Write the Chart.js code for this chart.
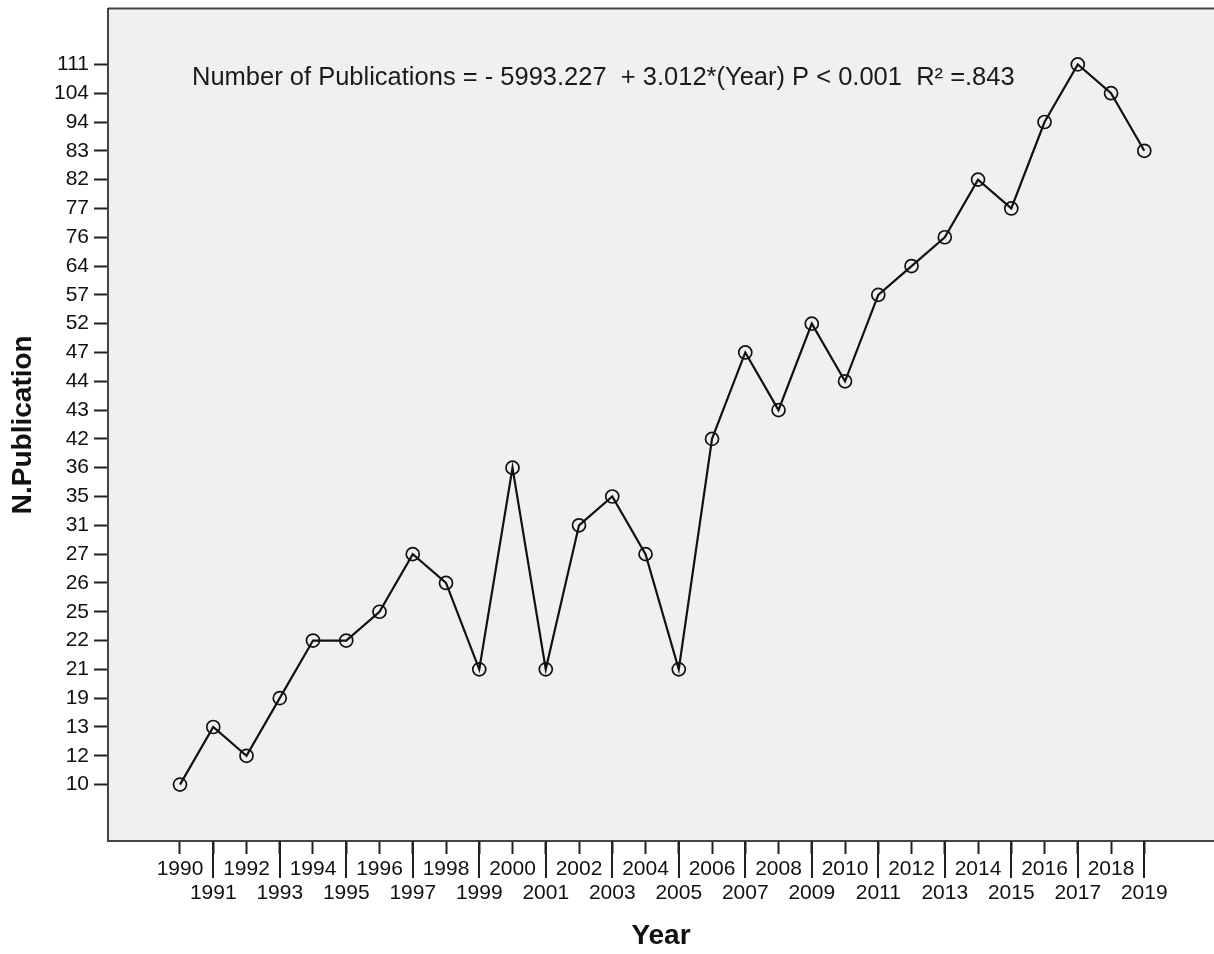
<!DOCTYPE html>
<html>
<head>
<meta charset="utf-8">
<script src="https://cdn.jsdelivr.net/npm/chart.js@4"></script>
<style>
  html, body { margin: 0; padding: 0; background: #ffffff; overflow: hidden; }
  #wrap { position: relative; width: 1214px; height: 954px; }
</style>
</head>
<body>
<div id="wrap"><canvas id="c"></canvas></div>
<script>
const years = [1990,1991,1992,1993,1994,1995,1996,1997,1998,1999,2000,2001,2002,2003,2004,2005,2006,2007,2008,2009,2010,2011,2012,2013,2014,2015,2016,2017,2018,2019];
const publications = [10,13,12,19,22,22,25,27,26,21,36,21,31,35,27,21,42,47,43,52,44,57,64,76,82,77,94,111,104,83];
const yCategories = [10,12,13,19,21,22,25,26,27,31,35,36,42,43,44,47,52,57,64,76,77,82,83,94,104,111];
const annotationText = 'Number of Publications = - 5993.227  + 3.012*(Year) P < 0.001  R\u00B2 =.843';
const xTitle = 'Year';
const yTitle = 'N.Publication';

const FONT = '"Liberation Sans", Arial, Helvetica, sans-serif';
Chart.defaults.font.family = FONT;
Chart.defaults.color = '#111';

const points = years.map((yr, i) => ({ x: yr, y: yCategories.indexOf(publications[i]) }));

const framePlugin = {
  id: 'frame',
  beforeDraw(chart) {
    const { ctx, chartArea: a } = chart;
    ctx.save();
    ctx.fillStyle = '#f0f0f0';
    ctx.fillRect(a.left, a.top, a.right - a.left, a.bottom - a.top);
    ctx.restore();
  },
  afterDraw(chart) {
    const { ctx, chartArea: a } = chart;
    const xs = chart.scales.x;
    ctx.save();
    // top border
    ctx.strokeStyle = '#444';
    ctx.lineWidth = 2;
    ctx.beginPath();
    ctx.moveTo(a.left, a.top);
    ctx.lineTo(a.right, a.top);
    ctx.stroke();
    // long ticks for second row (odd years)
    ctx.strokeStyle = '#222';
    ctx.lineWidth = 2;
    years.forEach(yr => {
      if (yr % 2 === 1) {
        const px = Math.round(xs.getPixelForValue(yr));
        ctx.beginPath();
        ctx.moveTo(px, a.bottom);
        ctx.lineTo(px, a.bottom + 37);
        ctx.stroke();
      }
    });
    // regression annotation
    ctx.fillStyle = '#1a1a1a';
    ctx.font = '25.5px ' + FONT;
    ctx.textAlign = 'left';
    ctx.textBaseline = 'middle';
    ctx.fillText(annotationText, 192, 78);
    ctx.restore();
  }
};

new Chart(document.getElementById('c'), {
  type: 'line',
  data: {
    datasets: [{
      data: points,
      borderColor: '#111',
      borderWidth: 2.2,
      pointRadius: 6.5,
      pointHoverRadius: 6.5,
      pointBorderWidth: 1.7,
      pointBorderColor: '#111',
      pointBackgroundColor: 'rgba(0,0,0,0)',
      tension: 0,
      fill: false
    }]
  },
  options: {
    responsive: true,
    maintainAspectRatio: false,
    animation: false,
    events: [],
    layout: { autoPadding: false, padding: { top: 8.5, left: 0, right: 0, bottom: 0 } },
    plugins: { legend: { display: false }, tooltip: { enabled: false } },
    scales: {
      x: {
        type: 'linear',
        min: 1987.835,
        max: 2021.096,
        afterBuildTicks(scale) { scale.ticks = years.map(v => ({ value: v })); },
        afterFit(scale) { scale.height = 113; scale.paddingLeft = 0; scale.paddingRight = 0; },
        grid: { drawOnChartArea: false, drawTicks: true, tickLength: 13, tickColor: '#222', tickWidth: 2 },
        border: { display: true, color: '#444', width: 2 },
        ticks: {
          autoSkip: false, maxRotation: 0, minRotation: 0, padding: 3,
          color: '#111',
          font: { size: 21, lineHeight: 1.143 },
          callback(value) { return (value % 2 === 1) ? ['', String(value)] : String(value); }
        },
        title: {
          display: true, text: xTitle, color: '#111',
          font: { size: 28, weight: 'bold', lineHeight: 1.2 },
          padding: { top: 0, bottom: 1 }
        }
      },
      y: {
        type: 'linear',
        min: -1.958,
        max: 26.94,
        afterBuildTicks(scale) { scale.ticks = yCategories.map((_, i) => ({ value: i })); },
        afterFit(scale) { scale.width = 108; scale.paddingTop = 0; scale.paddingBottom = 0; },
        grid: { drawOnChartArea: false, drawTicks: true, tickLength: 14, tickColor: '#222', tickWidth: 2 },
        border: { display: true, color: '#444', width: 2 },
        ticks: {
          autoSkip: false, padding: 5, color: '#111',
          font: { size: 21 },
          callback(value) { return String(yCategories[value]); }
        },
        title: {
          display: true, text: yTitle, color: '#111',
          font: { size: 28, weight: 'bold', lineHeight: 1.2 },
          padding: { top: 6, bottom: 0 }
        }
      }
    }
  },
  plugins: [framePlugin]
});
</script>
</body>
</html>
